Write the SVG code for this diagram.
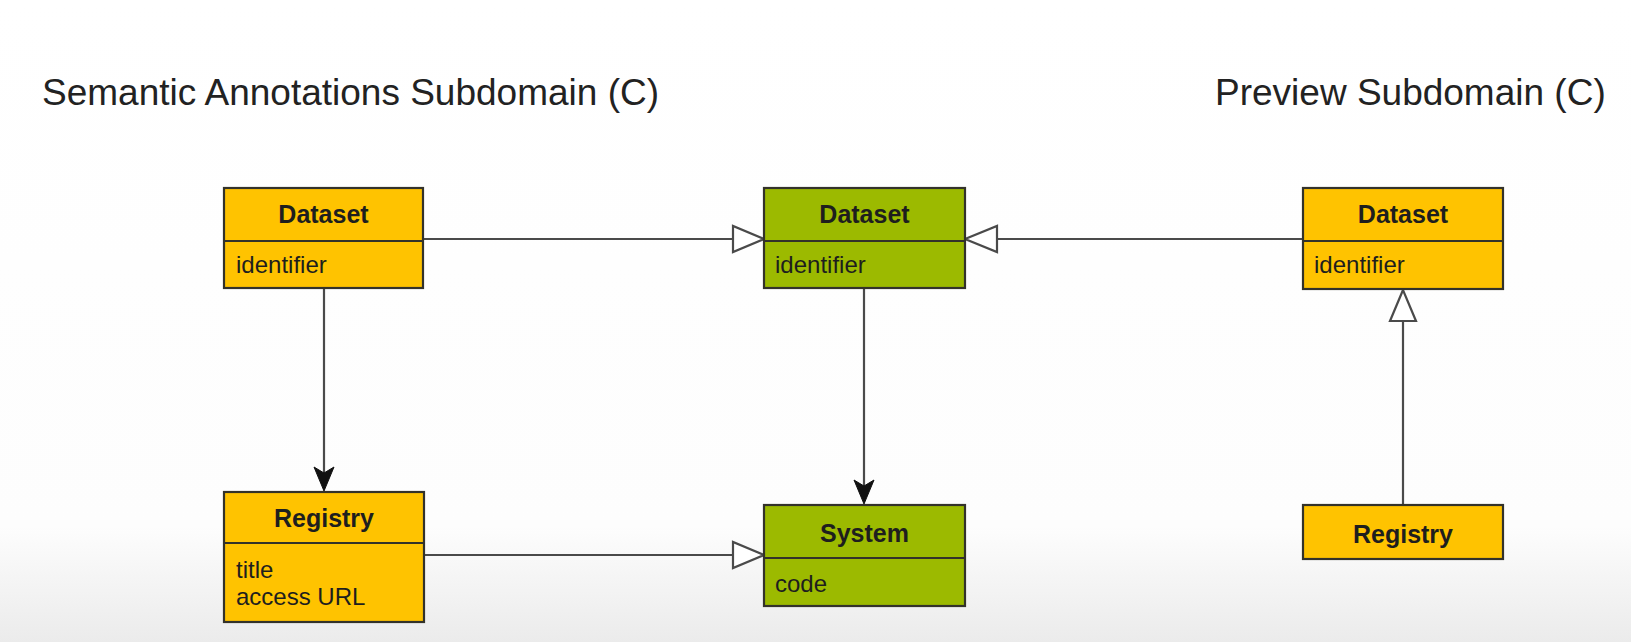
<svg xmlns="http://www.w3.org/2000/svg" width="1631" height="642" viewBox="0 0 1631 642">
<defs>
<linearGradient id="bg" x1="0" y1="0" x2="0" y2="1">
<stop offset="0" stop-color="#ffffff"/>
<stop offset="0.82" stop-color="#fdfdfd"/>
<stop offset="1" stop-color="#ebebeb"/>
</linearGradient>
<style>
.title{font-family:"Liberation Sans",Arial,sans-serif;font-size:37px;fill:#222;}
.box{stroke:#33322a;stroke-width:2.2;}
.org{fill:#ffc300;}
.grn{fill:#9cba00;}
.div{stroke:#33322a;stroke-width:2.2;}
.hd{font-family:"Liberation Sans",Arial,sans-serif;font-size:25px;font-weight:bold;fill:#1e1e1e;text-anchor:middle;}
.at{font-family:"Liberation Sans",Arial,sans-serif;font-size:24px;fill:#1e1e1e;}
.ln{stroke:#4a4a4a;stroke-width:2.2;fill:none;}
.hollow{fill:#fff;stroke:#4a4a4a;stroke-width:2.2;stroke-linejoin:miter;}
.filled{fill:#111;stroke:#111;stroke-width:1;}
</style>
</defs>
<rect x="0" y="0" width="1631" height="642" fill="url(#bg)"/>
<text class="title" x="42" y="105">Semantic Annotations Subdomain (C)</text>
<text class="title" x="1215" y="105">Preview Subdomain (C)</text>

<g id="connectors">
<line class="ln" x1="424" y1="239" x2="733" y2="239"/>
<polygon class="hollow" points="764,239 733,226 733,252"/>
<line class="ln" x1="1303" y1="239" x2="997" y2="239"/>
<polygon class="hollow" points="965,239 997,226 997,252"/>
<line class="ln" x1="324" y1="289" x2="324" y2="476"/>
<polygon class="filled" points="324,491 314,467 324,473 334,467"/>
<line class="ln" x1="864" y1="289" x2="864" y2="488"/>
<polygon class="filled" points="864,504 854,480 864,486 874,480"/>
<line class="ln" x1="424" y1="555" x2="733" y2="555"/>
<polygon class="hollow" points="764,555 733,542 733,568"/>
<line class="ln" x1="1403" y1="505" x2="1403" y2="321"/>
<polygon class="hollow" points="1403,290 1390,321 1416,321"/>
</g>

<g id="sa-dataset">
<rect class="box org" x="224" y="188" width="199" height="100"/>
<line class="div" x1="224" y1="241" x2="423" y2="241"/>
<text class="hd" x="323.5" y="223">Dataset</text>
<text class="at" x="236" y="273">identifier</text>
</g>

<g id="core-dataset">
<rect class="box grn" x="764" y="188" width="201" height="100"/>
<line class="div" x1="764" y1="241" x2="965" y2="241"/>
<text class="hd" x="864.5" y="223">Dataset</text>
<text class="at" x="775" y="273">identifier</text>
</g>

<g id="pv-dataset">
<rect class="box org" x="1303" y="188" width="200" height="101"/>
<line class="div" x1="1303" y1="241" x2="1503" y2="241"/>
<text class="hd" x="1403" y="223">Dataset</text>
<text class="at" x="1314" y="273">identifier</text>
</g>

<g id="sa-registry">
<rect class="box org" x="224" y="492" width="200" height="130"/>
<line class="div" x1="224" y1="543" x2="424" y2="543"/>
<text class="hd" x="324" y="527">Registry</text>
<text class="at" x="236" y="578">title</text>
<text class="at" x="236" y="605">access URL</text>
</g>

<g id="core-system">
<rect class="box grn" x="764" y="505" width="201" height="101"/>
<line class="div" x1="764" y1="558" x2="965" y2="558"/>
<text class="hd" x="864.5" y="542">System</text>
<text class="at" x="775" y="592">code</text>
</g>

<g id="pv-registry">
<rect class="box org" x="1303" y="505" width="200" height="54"/>
<text class="hd" x="1403" y="543">Registry</text>
</g>
</svg>
